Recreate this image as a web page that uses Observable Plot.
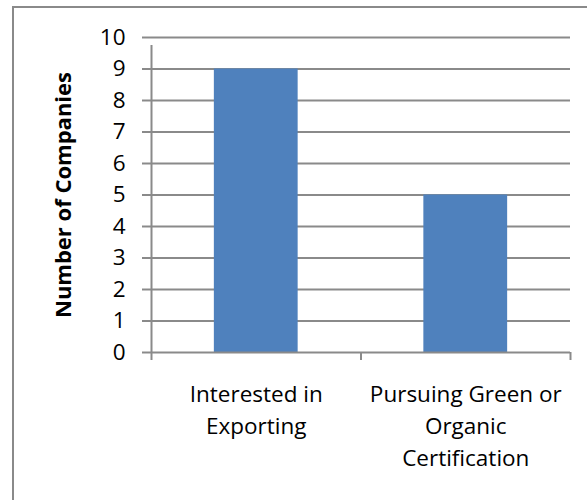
<!DOCTYPE html>
<html>
<head>
<meta charset="utf-8">
<script src="https://cdn.jsdelivr.net/npm/d3@7"></script>
<script src="https://cdn.jsdelivr.net/npm/@observablehq/plot@0.6"></script>
<style>
  html, body { margin: 0; padding: 0; background: #fff; overflow: hidden; }
  #wrap { position: relative; width: 587px; height: 500px; overflow: hidden; }
  #border { position: absolute; left: 12px; top: 6px; width: 640px; height: 560px;
            border: 2px solid #8a8a8a; box-sizing: border-box; pointer-events: none; }
  #chart { position: absolute; left: 0; top: 0; }
</style>
</head>
<body>
<div id="wrap">
  <div id="chart"></div>
  <div id="border"></div>
</div>
<script>
// Companies surveyed, by activity
const categories = ["Interested in Exporting", "Pursuing Green or Organic Certification"];
const companies = [9, 5];
const categoryLabels = ["Interested in\nExporting", "Pursuing Green or\nOrganic\nCertification"];
const yTicks = [0, 1, 2, 3, 4, 5, 6, 7, 8, 9, 10];

const font = "'Open Sans', sans-serif";
const grid = "#8a8a8a";

// Each category gets one unit slot on x; the bar fills the middle 40% of it
const rows = categories.map((c, i) => ({category: c, index: i, value: companies[i]}));

const chart = Plot.plot({
  width: 587,
  height: 500,
  marginLeft: 151,
  marginRight: 17,
  marginTop: 37,
  marginBottom: 148,
  style: {fontFamily: font, fontSize: "22.5px", color: "#000", background: "transparent", overflow: "visible"},
  x: {type: "linear", domain: [0, categories.length], axis: null},
  y: {domain: [0, 10], axis: null},
  marks: [
    // horizontal gridlines
    Plot.ruleY(yTicks.filter(d => d > 0), {stroke: grid, strokeWidth: 2}),
    // bars
    Plot.rectY(rows, {x1: d => d.index + 0.3, x2: d => d.index + 0.7, y1: 0, y2: "value", fill: "#4f81bd"}),
    // value axis
    Plot.axisY({ticks: yTicks, tickSize: 9, tickPadding: 17, stroke: grid, strokeWidth: 2,
                fontSize: 22.5, fill: "#000", label: null}),
    Plot.ruleX([0], {stroke: grid, strokeWidth: 2, y1: 0, y2: 10, insetBottom: -8}),
    Plot.ruleY([0], {stroke: grid, strokeWidth: 2}),
    // category boundary ticks
    Plot.axisX({ticks: d3.range(categories.length + 1), tickSize: 8, tickFormat: () => "",
                stroke: grid, strokeWidth: 2, label: null}),
    // category labels
    Plot.axisX({ticks: categories.map((c, i) => i + 0.5), tickSize: 0, tickPadding: 26,
                tickFormat: (d, i) => categoryLabels[i], fontSize: 22.5, fill: "#000",
                lineHeight: 1.44, label: null}),
    // axis title
    Plot.text(["Number of Companies"], {
      frameAnchor: "left", textAnchor: "middle", dx: -88, rotate: -90,
      fontWeight: "bold", fontSize: 22, fill: "#000"
    })
  ]
});
document.getElementById("chart").appendChild(chart);
</script>
</body>
</html>
